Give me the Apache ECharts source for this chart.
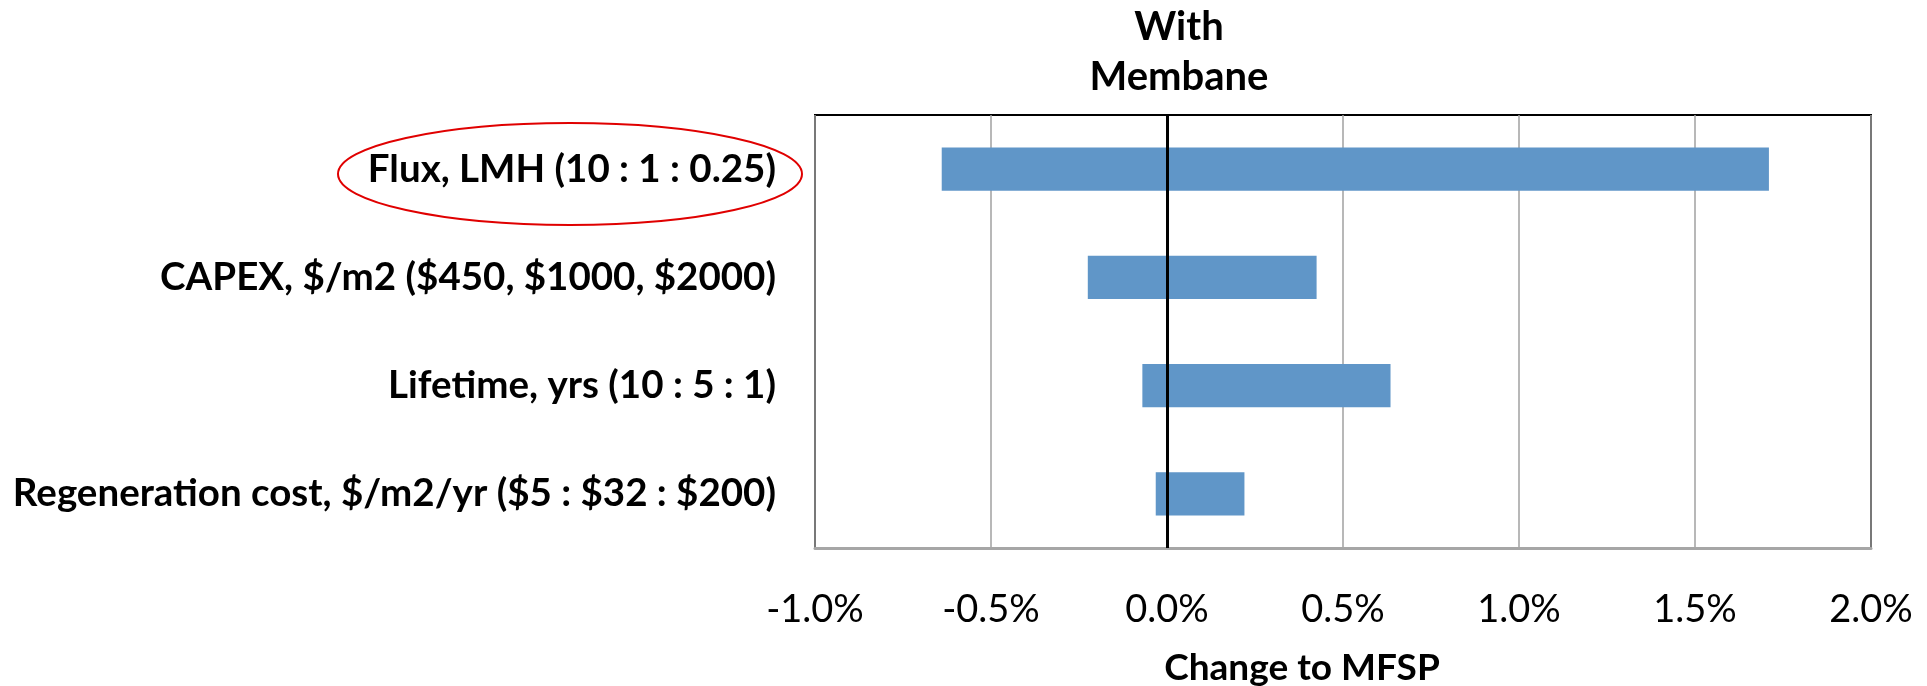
<!DOCTYPE html>
<html><head><meta charset="utf-8">
<script src="https://cdn.jsdelivr.net/npm/echarts@6/dist/echarts.min.js"></script>
<style>html,body{margin:0;padding:0;background:#fff}#c{width:1927px;height:686px}</style>
</head><body><div id="c"></div>
<script>
const categories = ['Flux, LMH (10 : 1 : 0.25)', 'CAPEX, $/m2 ($450, $1000, $2000)', 'Lifetime, yrs (10 : 5 : 1)', 'Regeneration cost, $/m2/yr ($5 : $32 : $200)'];
const lowValues = [-0.64, -0.225, -0.07, -0.032];
const highValues = [1.71, 0.425, 0.635, 0.22];
const xTicks = { min: -1, max: 2, interval: 0.5 };
const chartTitle = 'With\nMembane';
const axisTitle = 'Change to MFSP';

const FONT = 'Lato';
const chart = echarts.init(document.getElementById('c'));
chart.setOption({
  animation: false,
  grid: { left: 815, right: 56, top: 115, bottom: 138, show: true, borderColor: '#000', borderWidth: 2, backgroundColor: '#fff' },
  xAxis: {
    type: 'value', min: xTicks.min, max: xTicks.max, interval: xTicks.interval,
    axisLine: { show: true, onZero: false, lineStyle: { color: '#a6a6a6', width: 3 } },
    axisTick: { show: false },
    splitLine: { show: true, lineStyle: { color: '#a0a0a0', width: 1.5 } },
    axisLabel: { formatter: v => v.toFixed(1) + '%', fontFamily: FONT, fontSize: 38, color: '#000', margin: 43 }
  },
  yAxis: {
    type: 'category', data: categories, inverse: true,
    axisLine: { show: false }, axisTick: { show: false }, splitLine: { show: false },
    axisLabel: { fontFamily: FONT, fontWeight: 'bold', fontSize: 38.5, color: '#000', margin: 39 }
  },
  series: [
    { type: 'bar', stack: 't', data: lowValues, barWidth: '40%', itemStyle: { color: '#6096c8' },
      markLine: { silent: true, symbol: 'none', label: { show: false }, lineStyle: { color: '#000', width: 3, type: 'solid' }, data: [{ xAxis: 0 }], z: 10 } },
    { type: 'bar', stack: 't', data: highValues, barWidth: '40%', itemStyle: { color: '#6096c8' } }
  ],
  graphic: [
    { type: 'text', style: { text: chartTitle, x: 1179, y: 52, align: 'center', verticalAlign: 'middle', font: 'bold 40px ' + FONT, fill: '#000', lineHeight: 50 } },
    { type: 'text', style: { text: axisTitle, x: 1302, y: 668, align: 'center', verticalAlign: 'middle', font: 'bold 37px ' + FONT, fill: '#000' } },
    { type: 'ellipse', shape: { cx: 570, cy: 174, rx: 232, ry: 51 }, style: { fill: 'none', stroke: '#e00000', lineWidth: 2 } }
  ]
});
</script></body></html>
